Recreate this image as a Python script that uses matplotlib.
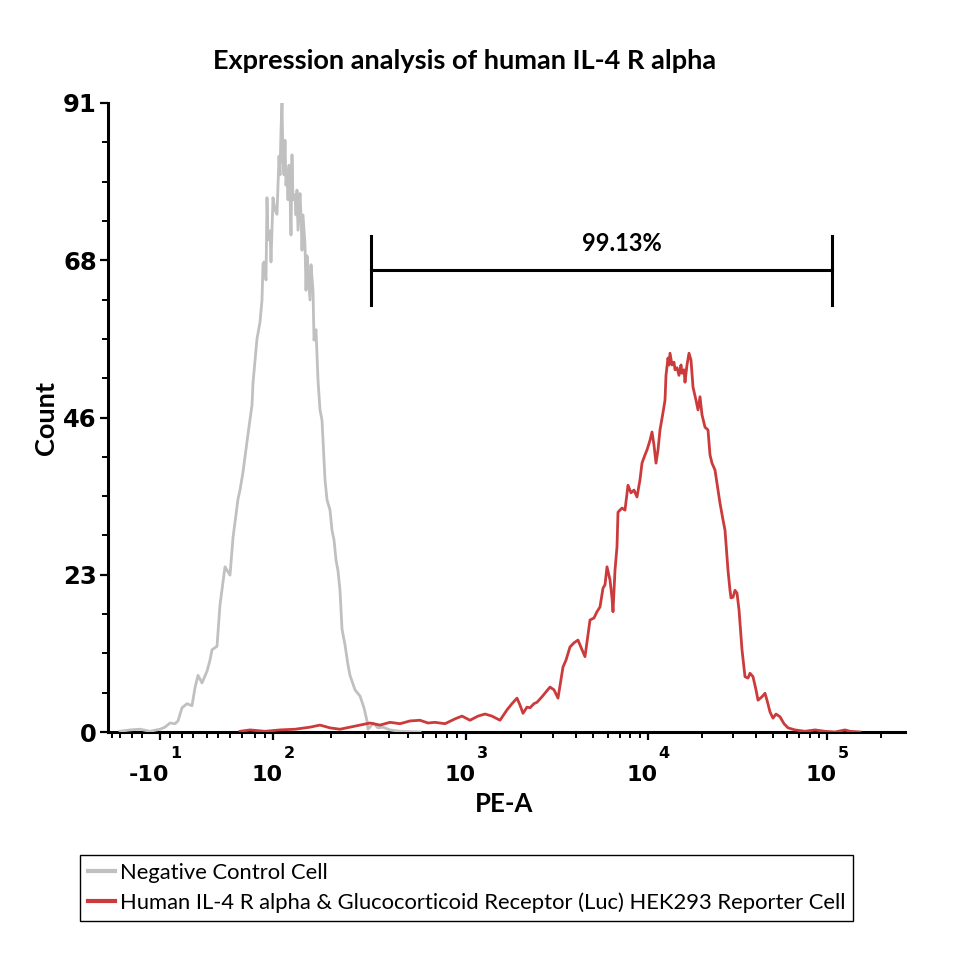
import numpy as np
import matplotlib
matplotlib.use("Agg")
import matplotlib.pyplot as plt
import matplotlib.transforms as mtransforms

# ---------------- data (x in display channels, y in counts) ----------------
neg_x = [12, 22, 32, 42, 52, 57, 62, 67, 70, 74, 79, 84, 87, 90, 94, 99, 102, 104, 109, 112,
         117, 122, 125, 130, 132, 135, 140, 144, 145, 149, 152, 154, 155, 156, 158, 159, 160, 162,
         163, 165, 167, 169, 170, 171, 172, 173, 174, 175, 176, 177, 178, 179, 180, 181, 182, 183,
         184, 185, 187, 188, 189, 190, 192, 193, 194, 195, 197, 198, 199, 200, 202, 203, 205, 206,
         208, 210, 212, 214, 217, 219, 222, 224, 226, 228, 230, 232, 234, 237, 240, 242, 247, 252,
         256, 259, 260, 262, 265, 270, 275, 282, 292, 312]
neg_y = [0.1, 0.3, 0.4, 0.1, 0.4, 0.7, 1.3, 1.2, 1.6, 3.5, 4.1, 3.8, 6.4, 8.2, 7.1, 8.8, 10.4, 11.9, 12.4, 18.4,
         23.9, 22.7, 28.1, 33.7, 35.0, 37.6, 43.1, 47.3, 50.5, 56.9, 59.3, 62.5, 67.7, 68.0, 65.4, 77.3, 71.2, 72.5,
         68.0, 77.3, 75.5, 74.9, 79.1, 83.3, 80.6, 87.1, 91.0, 82.8, 80.6, 85.6, 79.1, 81.3, 77.0, 82.0, 78.4, 71.9,
         83.5, 77.0, 77.7, 74.8, 78.4, 72.6, 77.9, 74.8, 69.7, 74.8, 70.5, 63.9, 68.9, 66.8, 62.5, 67.6, 63.9, 56.7,
         58.2, 50.9, 46.6, 45.1, 36.5, 33.6, 32.1, 29.2, 27.8, 24.9, 23.3, 20.5, 14.9, 12.6, 9.7, 8.2, 6.1, 5.2,
         3.5, 1.6, 0.4, 0.7, 1.3, 0.6, 0.7, 0.3, 0.1, 0.0]

pos_x = [132, 142, 157, 172, 187, 202, 212, 222, 232, 242, 252, 262, 272, 282, 292, 302, 312, 320, 327, 337,
         347, 354, 362, 370, 377, 384, 392, 399, 404, 409, 412, 415, 419, 422, 426, 429, 434, 438, 442, 446,
         450, 455, 458, 462, 466, 470, 474, 477, 482, 486, 489, 492, 495, 497, 499, 502, 504, 505, 507, 509,
         510, 514, 517, 520, 523, 526, 529, 532, 534, 537, 539, 542, 544, 546, 548, 550, 552, 555, 557, 558,
         559, 560, 561, 562, 564, 566, 567, 569, 571, 573, 574, 576, 577, 579, 581, 583, 585, 588, 590, 592,
         594, 597, 600, 602, 604, 607, 610, 612, 615, 617, 620, 622, 623, 625, 627, 629, 631, 632, 634, 637,
         640, 642, 645, 648, 650, 654, 657, 659, 662, 665, 668, 672, 676, 680, 687, 697, 707, 717, 727, 737,
         742, 752]
pos_y = [0.1, 0.3, 0.1, 0.3, 0.4, 0.7, 1.0, 0.6, 0.4, 0.7, 1.0, 1.3, 1.0, 1.4, 1.2, 1.6, 1.7, 1.3, 1.4, 1.2,
         1.9, 2.3, 1.7, 2.3, 2.6, 2.3, 1.7, 3.2, 4.1, 4.9, 3.9, 2.7, 3.6, 3.5, 4.1, 4.3, 5.1, 5.8, 6.5, 6.1,
         4.9, 9.4, 10.4, 12.3, 12.9, 13.3, 11.9, 10.9, 16.2, 16.5, 17.4, 18.1, 20.8, 21.3, 23.9, 22.0, 19.4, 17.4, 23.4, 26.8,
         31.8, 32.4, 32.1, 35.7, 34.6, 35.0, 34.0, 36.5, 38.9, 40.1, 40.8, 42.2, 43.4, 41.5, 38.9, 40.8, 43.7, 46.2, 48.0, 51.6,
         52.8, 54.1, 53.1, 54.8, 53.1, 53.5, 52.4, 52.7, 51.6, 53.1, 51.9, 52.4, 50.6, 53.1, 54.8, 53.8, 49.9, 48.0, 46.6, 48.5,
         45.9, 44.1, 43.7, 40.1, 38.9, 37.9, 35.0, 33.1, 30.7, 29.2, 23.4, 20.5, 19.4, 19.5, 20.5, 20.1, 17.7, 15.8, 11.9, 8.0,
         7.8, 8.5, 8.0, 6.1, 4.6, 5.1, 5.6, 4.6, 2.9, 2.0, 2.6, 2.2, 1.2, 0.6, 0.3, 0.1, 0.3, 0.1, 0.0, 0.3,
         0.1, 0.0]

series_labels = ["Negative Control Cell",
                 "Human IL-4 R alpha & Glucocorticoid Receptor (Luc) HEK293 Reporter Cell"]
series_colors = ["#c0c0c0", "#cc3b3b"]

# axis ticks
xmajor_pos = [52, 165, 358, 540, 719]
xmajor_base = ["-10", "10", "10", "10", "10"]
xmajor_exp = ["1", "2", "3", "4", "5"]
xminor_extra = [4, 12, 24, 34, 62, 74, 85, 99, 110, 122, 134, 147, 157]
ymax = 91
yticks = [0, 22.75, 45.5, 68.25, 91]
ytick_labels = ["0", "23", "46", "68", "91"]

gate_left, gate_right = 263, 724
gate_y, gate_low, gate_high = 66.8, 61.8, 71.8
gate_text = "99.13%"

# ---------------- figure ----------------
fig = plt.figure(figsize=(9.6, 9.6), dpi=100)
W = H = 960.0
ax = fig.add_axes([108 / W, 1 - 732 / H, (905 - 108) / W, (732 - 103) / H])

ax.plot(neg_x, neg_y, color=series_colors[0], lw=2.0, label=series_labels[0], zorder=3)
ax.plot(pos_x, pos_y, color=series_colors[1], lw=2.0, label=series_labels[1], zorder=4)

ax.set_xlim(0, 797)
ax.set_ylim(0, ymax)

for s in ["top", "right"]:
    ax.spines[s].set_visible(False)
ax.spines["left"].set_linewidth(2.2)
ax.spines["bottom"].set_linewidth(2.2)

# y ticks
ax.set_yticks(yticks)
ax.set_yticklabels(ytick_labels, fontfamily="DejaVu Sans", fontweight="bold", fontsize=17.5)
ax.set_yticks(np.arange(0, ymax + 0.01, ymax / 16), minor=True)
ax.tick_params(axis="y", which="major", direction="out", length=6, width=1.6, pad=2)
ax.tick_params(axis="y", which="minor", direction="out", length=4, width=1.4)

# x ticks
minor = list(xminor_extra)
for a, b in zip(xmajor_pos[1:-1], xmajor_pos[2:]):
    for k in range(2, 10):
        minor.append(a + (b - a) * np.log10(k))
dec = xmajor_pos[-1] - xmajor_pos[-2]
minor.append(xmajor_pos[-1] + dec * np.log10(2))
ax.set_xticks(xmajor_pos)
ax.set_xticklabels([""] * len(xmajor_pos))
ax.set_xticks(minor, minor=True)
ax.tick_params(axis="x", which="major", direction="out", length=6, width=1.6)
ax.tick_params(axis="x", which="minor", direction="out", length=4, width=1.4)

trans = mtransforms.blended_transform_factory(ax.transData, fig.transFigure)
off = 9.5
for p, b, e in zip(xmajor_pos, xmajor_base, xmajor_exp):
    ax.text(p + off, 1 - 775 / H, b, transform=trans, ha="right", va="center",
            fontfamily="DejaVu Sans", fontweight="bold", fontsize=16)
    ax.text(p + off + 1, 1 - 753 / H, e, transform=trans, ha="left", va="center",
            fontfamily="DejaVu Sans", fontweight="bold", fontsize=11.5)

# gate
ax.plot([gate_left, gate_right], [gate_y, gate_y], color="black", lw=2.2, zorder=5)
ax.plot([gate_left, gate_left], [gate_low, gate_high], color="black", lw=2.2, zorder=5)
ax.plot([gate_right, gate_right], [gate_low, gate_high], color="black", lw=2.2, zorder=5)
ax.text((gate_left + gate_right) / 2 + 20, 70.7, gate_text, ha="center", va="center",
        fontfamily="Lato", fontweight="bold", fontsize=17)

# labels
fig.text(465 / W, 1 - 61 / H, "Expression analysis of human IL-4 R alpha", ha="center", va="center",
         fontfamily="Lato", fontweight="bold", fontsize=19.5)
fig.text(46 / W, 1 - 418 / H, "Count", ha="center", va="center", rotation=90,
         fontfamily="Lato", fontweight="bold", fontsize=19.5)
fig.text(504 / W, 1 - 804 / H, "PE-A", ha="center", va="center",
         fontfamily="Lato", fontweight="bold", fontsize=18.5)

leg = fig.legend(loc="upper left", bbox_to_anchor=(80 / W, 1 - 855 / H), borderaxespad=0,
                 frameon=True, fancybox=False, edgecolor="black", framealpha=1,
                 handlelength=1.25, handletextpad=0.2, borderpad=0.35, labelspacing=0.45,
                 prop={"family": "Lato", "size": 15.8})
leg.get_frame().set_linewidth(1.0)
for line in leg.get_lines():
    line.set_linewidth(3)

fig.savefig("out.png", dpi=100)
